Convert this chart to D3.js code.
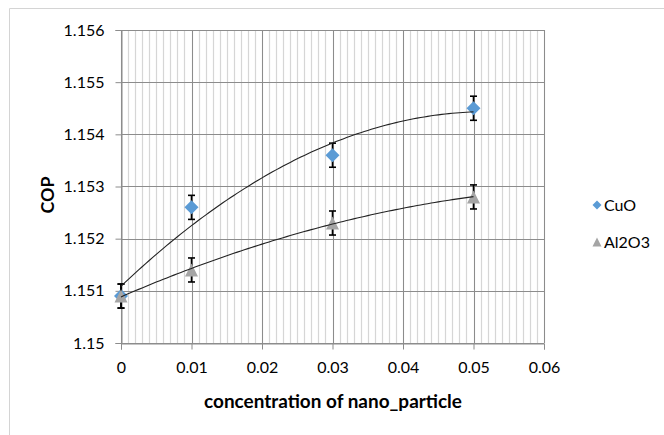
<!DOCTYPE html>
<html>
<head>
<meta charset="utf-8">
<script src="https://cdn.jsdelivr.net/npm/d3@7"></script>
<style>
  html, body { margin: 0; padding: 0; background: #fff; }
  svg { display: block; font-family: Lato, "Open Sans", sans-serif; }
</style>
</head>
<body>
<svg id="chart" width="664" height="435"></svg>
<script>
// data
const concentrations = [0, 0.01, 0.03, 0.05];
const cuoValues = [1.1509, 1.1526, 1.1536, 1.1545];
const al2o3Values = [1.1509, 1.1514, 1.1523, 1.1528];
const seriesNames = ["CuO", "Al2O3"];
const xTicks = [0, 0.01, 0.02, 0.03, 0.04, 0.05, 0.06];
const yTicks = [1.15, 1.151, 1.152, 1.153, 1.154, 1.155, 1.156];
const errorPercent = 0.0002; // error bars are 0.02% of the value

const svg = d3.select("#chart");
const plotLeft = 121, plotRight = 544, plotTop = 30, plotBottom = 343;

const x = d3.scaleLinear().domain([0, 0.06]).range([plotLeft, plotRight]);
const y = d3.scaleLinear().domain([1.15, 1.156]).range([plotBottom, plotTop]);

// outer chart border (only top/left visible in the crop)
svg.append("path")
  .attr("d", "M9.5,435 L9.5,8.5 L664,8.5")
  .attr("fill", "none")
  .attr("stroke", "#d4d4d4")
  .attr("stroke-width", 1);

// minor vertical grid lines
const minorX = d3.range(0, 61).map(i => i / 1000);
svg.append("g")
  .selectAll("line")
  .data(minorX)
  .join("line")
  .attr("x1", d => Math.round(x(d)) + 0.5)
  .attr("x2", d => Math.round(x(d)) + 0.5)
  .attr("y1", plotTop)
  .attr("y2", plotBottom)
  .attr("stroke", "#d6d6d6")
  .attr("stroke-width", 1.2);

// major grid lines
svg.append("g")
  .selectAll("line")
  .data(xTicks)
  .join("line")
  .attr("x1", d => Math.round(x(d)) + 0.5)
  .attr("x2", d => Math.round(x(d)) + 0.5)
  .attr("y1", plotTop)
  .attr("y2", plotBottom)
  .attr("stroke", "#8c8c8c");

svg.append("g")
  .selectAll("line")
  .data(yTicks)
  .join("line")
  .attr("x1", plotLeft)
  .attr("x2", plotRight)
  .attr("y1", d => Math.round(y(d)) + 0.5)
  .attr("y2", d => Math.round(y(d)) + 0.5)
  .attr("stroke", "#8c8c8c");

// axes
const xAxis = d3.axisBottom(x)
  .tickValues(xTicks)
  .tickSize(6)
  .tickPadding(12)
  .tickFormat(d => d === 0 ? "0" : d3.format(".2f")(d));
const yAxis = d3.axisLeft(y)
  .tickValues(yTicks)
  .tickSize(6)
  .tickPadding(11)
  .tickFormat(d => d3.format(".3~f")(d));

const gx = svg.append("g")
  .attr("transform", `translate(0,${Math.round(plotBottom) + 0.5})`)
  .call(xAxis);
const gy = svg.append("g")
  .attr("transform", `translate(${Math.round(plotLeft) + 0.5},0)`)
  .call(yAxis);

[gx, gy].forEach(g => {
  g.select(".domain").attr("stroke", "#8c8c8c");
  g.selectAll(".tick line").attr("stroke", "#8c8c8c");
  g.selectAll(".tick text")
    .attr("fill", "#000")
    .style("font-size", "16px")
    .style("font-family", "Lato, sans-serif");
});

// plot area right border
svg.append("line")
  .attr("x1", Math.round(plotRight) + 0.5).attr("x2", Math.round(plotRight) + 0.5)
  .attr("y1", plotTop).attr("y2", plotBottom)
  .attr("stroke", "#8c8c8c");

// least squares quadratic trendline (like the spreadsheet's polynomial fit)
function polyFit2(xs, ys) {
  let s = [0, 0, 0, 0, 0], t = [0, 0, 0];
  xs.forEach((xv, i) => {
    for (let k = 0; k < 5; k++) s[k] += Math.pow(xv, k);
    for (let k = 0; k < 3; k++) t[k] += Math.pow(xv, k) * ys[i];
  });
  const m = [[s[0], s[1], s[2], t[0]], [s[1], s[2], s[3], t[1]], [s[2], s[3], s[4], t[2]]];
  for (let i = 0; i < 3; i++) {
    for (let j = i + 1; j < 3; j++) {
      const f = m[j][i] / m[i][i];
      for (let k = i; k < 4; k++) m[j][k] -= f * m[i][k];
    }
  }
  const c = [0, 0, 0];
  for (let i = 2; i >= 0; i--) {
    let v = m[i][3];
    for (let k = i + 1; k < 3; k++) v -= m[i][k] * c[k];
    c[i] = v / m[i][i];
  }
  return xv => c[0] + c[1] * xv + c[2] * xv * xv;
}

// marker shapes, w = width, h = height
const diamond = (w, h) => `M0,${-h / 2}L${w / 2},0L0,${h / 2}L${-w / 2},0Z`;
const triangle = (w, h) => `M0,${-h / 2}L${w / 2},${h / 2}L${-w / 2},${h / 2}Z`;

const series = [
  { name: seriesNames[0], values: cuoValues, color: "#5b9bd5", shape: diamond, w: 14, h: 14 },
  { name: seriesNames[1], values: al2o3Values, color: "#a5a5a5", shape: triangle, w: 13, h: 13 }
];

const line = d3.line().x(d => x(d[0])).y(d => y(d[1]));
const xMax = d3.max(concentrations);

// error bars then markers, series by series
series.forEach(s => {
  concentrations.forEach((c, i) => {
    const v = s.values[i];
    const e = v * errorPercent;
    const cx = x(c);
    const bar = svg.append("g").attr("stroke", "#000").attr("stroke-width", 1.6);
    bar.append("line").attr("x1", cx).attr("x2", cx).attr("y1", y(v + e)).attr("y2", y(v - e));
    bar.append("line").attr("x1", cx - 3.5).attr("x2", cx + 3.5).attr("y1", y(v + e)).attr("y2", y(v + e));
    bar.append("line").attr("x1", cx - 3.5).attr("x2", cx + 3.5).attr("y1", y(v - e)).attr("y2", y(v - e));
  });

  svg.append("g")
    .selectAll("path")
    .data(concentrations)
    .join("path")
    .attr("d", s.shape(s.w, s.h))
    .attr("transform", (d, i) => `translate(${x(d)},${y(s.values[i])})`)
    .attr("fill", s.color);
});

// trendlines on top
series.forEach(s => {
  const f = polyFit2(concentrations.map(c => c * 100), s.values);
  const curve = d3.range(0, 101).map(i => {
    const cx = xMax * i / 100;
    return [cx, f(cx * 100)];
  });
  svg.append("path")
    .attr("d", line(curve))
    .attr("fill", "none")
    .attr("stroke", "#222")
    .attr("stroke-width", 1.1);
});

// fit a text to a width by adjusting its font size
function fitWidth(sel, target) {
  const fs = parseFloat(sel.style("font-size"));
  const w = sel.node().getComputedTextLength();
  sel.style("font-size", (fs * target / w).toFixed(2) + "px");
}

// axis titles
const xTitle = svg.append("text")
  .attr("x", 333)
  .attr("y", 408)
  .attr("text-anchor", "middle")
  .style("font-size", "19px")
  .style("font-weight", "bold")
  .text("concentration of nano_particle");
fitWidth(xTitle, 258);

const yTitle = svg.append("text")
  .attr("transform", "translate(54,195) rotate(-90)")
  .attr("text-anchor", "middle")
  .style("font-size", "20px")
  .style("font-weight", "bold")
  .text("COP");
fitWidth(yTitle, 37);

// legend
const legend = svg.append("g");
series.forEach((s, i) => {
  const ly = 205 + i * 37;
  legend.append("path")
    .attr("d", s.shape(9, 9))
    .attr("transform", `translate(597,${ly})`)
    .attr("fill", s.color);
  legend.append("text")
    .attr("x", 604)
    .attr("y", ly)
    .attr("dy", "0.35em")
    .style("font-size", "16px")
    .text(s.name);
});
</script>
</body>
</html>
